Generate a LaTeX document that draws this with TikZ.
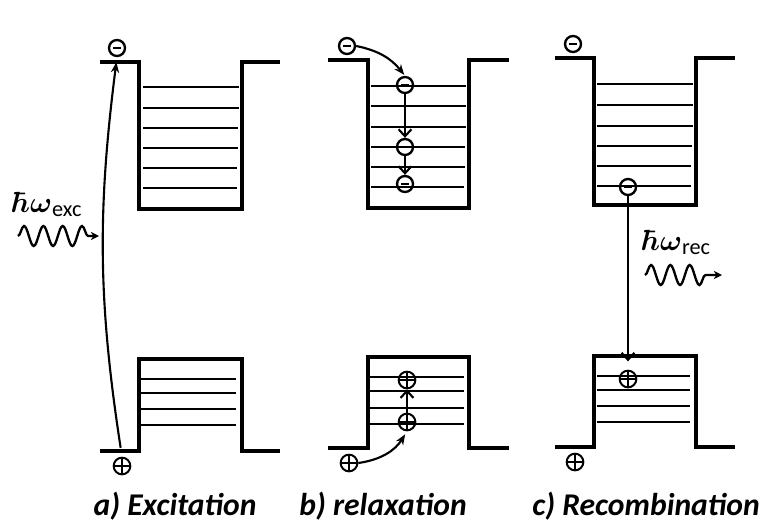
\documentclass[tikz,border=0pt]{standalone}
\usepackage{fontspec}
\usepackage{amsmath}
\usetikzlibrary{arrows.meta,decorations.pathmorphing}
\newfontfamily\capfont{Carlito}

\tikzset{
	wall/.style={line width=3pt},
	lev/.style={line width=1.3pt},
	levh/.style={line width=2pt},
	conn/.style={line width=1.8pt},
	elec/.style={circle, draw, line width=2pt, minimum size=0.48cm, inner sep=0pt,
		path picture={\draw[line width=1.8pt] ([xshift=-0.12cm]path picture bounding box.center) -- ([xshift=0.12cm]path picture bounding box.center);}},
	hole/.style={circle, draw, line width=1.7pt, minimum size=0.5cm, inner sep=0pt,
		path picture={\draw[line width=1.3pt] (path picture bounding box.west) -- (path picture bounding box.east) (path picture bounding box.north) -- (path picture bounding box.south);}},
	photon/.style={decorate, decoration={snake, segment length=0.58cm, amplitude=0.3cm, post length=0.25cm}, line width=2pt, -{Stealth[length=7pt,width=7pt]}},
	fill tip/.style={-{Stealth[length=9pt,width=7pt]}},
	open tip/.style={-{Straight Barb[length=6pt,width=11pt]}},
	captext/.style={font=\capfont\bfseries\itshape\fontsize{27}{32}\selectfont, anchor=base, inner sep=0pt},
	hw/.style={anchor=base west, inner sep=0pt, font=\fontsize{26}{30}\selectfont}
}

\begin{document}
\begin{tikzpicture}[x=0.03cm, y=-0.03cm]
	\useasboundingbox (0,0) rectangle (764,522);
	% a) excitation
	\draw[wall] (100,62) -- (139,62) -- (139,209) -- (242,209) -- (242,62) -- (280,62);
	\draw[lev] (143,87)--(239,87) (143,108)--(239,108) (143,128)--(238,128) (143,148)--(238,148) (143,168)--(237,168) (143,188)--(237,188);
	\draw[wall] (100,451) -- (139,451) -- (139,359) -- (242,359) -- (242,451) -- (280,451);
	\draw[levh] (141,379)--(236,379) (141,393)--(236,393) (141,409)--(236,409) (141,425)--(236,425);
	\node[elec] (ea) at (117,48) {};
	\node[hole] (ha) at (122,466) {};
	\draw[conn, fill tip, shorten <=0.27cm, shorten >=0.15cm] (ha.north) to[bend left=8] (ea.south);
	\node[hw] (lexc) at (12,212) {$\boldsymbol{\hbar\omega}_{\text{\capfont\fontsize{19}{22}\selectfont exc}}$};
	\coordinate (wa0) at (18,236);
	\coordinate (wa1) at (99,236);
	\draw[photon] (wa0) -- (wa1);
	\node[captext] (capa) at (175,515) {a) Excitation};
	% b) relaxation
	\draw[wall] (328,60) -- (368,60) -- (368,208) -- (469,208) -- (469,60) -- (509,60);
	\draw[lev] (371,86)--(466,86) (371,106)--(466,106) (371,127)--(466,127) (371,147)--(465,147) (371,167)--(465,167) (371,187)--(464,187);
	\draw[wall] (328,448) -- (368,448) -- (368,357) -- (469,357) -- (469,448) -- (509,448);
	\draw[levh] (370,377)--(464,377) (370,391)--(464,391) (370,408)--(464,408) (370,424)--(464,424);
	\node[elec] (eb0) at (347,46) {};
	\node[elec] (eb1) at (405,85) {};
	\node[elec] (eb2) at (405,147) {};
	\node[elec] (eb3) at (405,184) {};
	\draw[conn, fill tip, shorten >=1pt] (eb0.east) to[bend left=20] (eb1.north);
	\draw[conn, open tip] (eb1) -- (eb2);
	\draw[conn, open tip] (eb2) -- (eb3);
	\node[hole] (hb0) at (349,463) {};
	\node[hole] (hb1) at (407,422) {};
	\node[hole] (hb2) at (407,380) {};
	\draw[conn, fill tip, shorten >=3pt] (hb0.east) to[bend right=25] (hb1.south);
	\draw[conn, open tip] (hb1) -- (hb2);
	\node[captext] (capb) at (383,515) {b) relaxation};
	% c) recombination
	\draw[wall] (555,58) -- (594,58) -- (594,205) -- (696,205) -- (696,58) -- (735,58);
	\draw[lev] (597,84)--(693,84) (597,105)--(693,105) (597,126)--(693,126) (597,146)--(692,146) (597,166)--(691,166) (597,186)--(691,186);
	\draw[wall] (555,447) -- (594,447) -- (594,356) -- (696,356) -- (696,447) -- (735,447);
	\draw[levh] (597,376)--(690,376) (597,390)--(690,390) (597,406)--(690,406) (597,422)--(690,422);
	\node[elec] (ec0) at (573,44) {};
	\node[elec] (ec1) at (628,187) {};
	\node[hole] (hc0) at (575,462) {};
	\node[hole] (hc1) at (628,379) {};
	\draw[conn, open tip, shorten >=0.25cm] (ec1) -- (hc1);
	\node[hw] (lrec) at (642,250) {$\boldsymbol{\hbar\omega}_{\text{\capfont\fontsize{19}{22}\selectfont rec}}$};
	\coordinate (wc0) at (645,275);
	\coordinate (wc1) at (722,275);
	\draw[photon] (wc0) -- (wc1);
	\node[captext] (capc) at (646,515) {c) Recombination};
\end{tikzpicture}
\end{document}
